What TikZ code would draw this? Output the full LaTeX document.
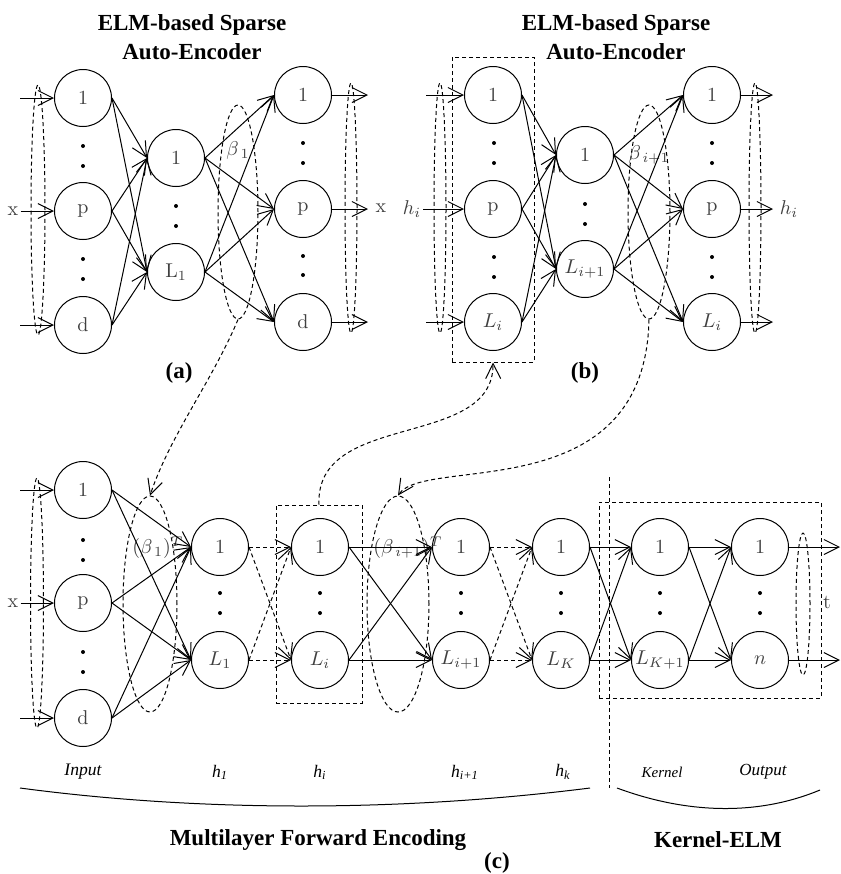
\documentclass[tikz,border=0pt]{standalone}
\usepackage{fontspec}
\newfontfamily\timesfont{Liberation Serif}
\usetikzlibrary{arrows.meta, positioning, shapes.geometric}

\begin{document}
\begin{tikzpicture}[
  x=0.5pt, y=-0.5pt,
  neuron/.style={draw, circle, minimum size=28.5pt, inner sep=0pt, line width=0.5pt, text=black!75, font=\fontsize{10}{12}\selectfont},
  ring/.style={draw, ellipse, inner sep=0pt, line width=0.5pt, dash pattern=on 2pt off 1.5pt},
  dashbox/.style={draw, rectangle, inner sep=0pt, line width=0.5pt, dash pattern=on 2pt off 1.5pt},
  arr/.style={-{Straight Barb[length=7.5pt, width=7.5pt]}, line width=0.5pt},
  darr/.style={arr, dash pattern=on 2pt off 1.5pt},
  dashline/.style={line width=0.5pt, dash pattern=on 2pt off 1.5pt},
  wlabel/.style={inner sep=1pt, text=black!75, font=\fontsize{10}{12}\selectfont},
  title/.style={align=center, font=\timesfont\bfseries\fontsize{11.5}{14.5}\selectfont},
  tag/.style={font=\timesfont\itshape\fontsize{8.8}{10}\selectfont}
]
  \useasboundingbox (0,0) rectangle (841,874);

  % (a) sparse auto-encoder
  \node[title] (a-title) at (192,37) {ELM-based Sparse\\Auto-Encoder};
  \node[neuron] (a-in1) at (83,98) {1};
  \node[neuron] (a-inp) at (83,211) {p};
  \node[neuron] (a-ind) at (83,325) {d};
  \node[neuron] (a-h1) at (176,158) {1};
  \node[neuron] (a-hL) at (176,272) {L$_1$};
  \node[neuron] (a-out1) at (303,95) {1};
  \node[neuron] (a-outp) at (303,209) {p};
  \node[neuron] (a-outd) at (303,322) {d};
  \node[ring, minimum width=7pt, minimum height=125pt] (a-ringin) at (38,210) {};
  \node[ring, minimum width=6pt, minimum height=125pt] (a-ringout) at (351,208) {};
  \node[ring, minimum width=20pt, minimum height=107pt] (a-beta) at (238,212) {};
  \node[wlabel] (a-betalab) at (238,150) {$\beta_{\,1}$};
  \node[wlabel] (a-x) at (13,211) {x};
  \node[wlabel] (a-xout) at (381,208) {x};
  \node[title] (a-tag) at (179,373) {(a)};
  \coordinate (a-s1) at (20,98);
  \coordinate (a-sd) at (20,325);
  \coordinate (a-e1) at (368,95);
  \coordinate (a-ep) at (368,209);
  \coordinate (a-ed) at (368,322);
  \fill (83,146) circle (1pt) (83,166) circle (1pt) (83,259) circle (1pt) (83,279) circle (1pt);
  \fill (176,206) circle (1pt) (176,226) circle (1pt);
  \fill (303,143) circle (1pt) (303,163) circle (1pt) (303,256) circle (1pt) (303,275) circle (1pt);

  \draw[arr] (a-s1) -- (a-in1.west);
  \draw[arr] (a-x) -- (a-inp.west);
  \draw[arr] (a-sd) -- (a-ind.west);
  \draw[arr] (a-in1.east) -- (a-h1.west);
  \draw[arr] (a-in1.east) -- (a-hL.west);
  \draw[arr] (a-inp.east) -- (a-h1.west);
  \draw[arr] (a-inp.east) -- (a-hL.west);
  \draw[arr] (a-ind.east) -- (a-h1.west);
  \draw[arr] (a-ind.east) -- (a-hL.west);
  \draw[arr] (a-h1.east) -- (a-out1.west);
  \draw[arr] (a-h1.east) -- (a-outp.west);
  \draw[arr] (a-h1.east) -- (a-outd.west);
  \draw[arr] (a-hL.east) -- (a-out1.west);
  \draw[arr] (a-hL.east) -- (a-outp.west);
  \draw[arr] (a-hL.east) -- (a-outd.west);
  \draw[arr] (a-out1.east) -- (a-e1);
  \draw[arr] (a-outp.east) -- (a-ep);
  \draw[arr] (a-outd.east) -- (a-ed);

  % (b) sparse auto-encoder of layer i
  \node[title] (b-title) at (616,37) {ELM-based Sparse\\Auto-Encoder};
  \node[neuron] (b-in1) at (493,95) {1};
  \node[neuron] (b-inp) at (493,209) {p};
  \node[neuron] (b-inL) at (493,322) {$L_i$};
  \node[neuron] (b-h1) at (585,155) {1};
  \node[neuron] (b-hL) at (585,269) {$L_{i+1}$};
  \node[neuron] (b-out1) at (712,95) {1};
  \node[neuron] (b-outp) at (712,209) {p};
  \node[neuron] (b-outL) at (712,322) {$L_i$};
  \node[dashbox, minimum width=41pt, minimum height=152.5pt] (b-box) at (493,209.5) {};
  \node[ring, minimum width=6pt, minimum height=125pt] (b-ringin) at (440,208) {};
  \node[ring, minimum width=6pt, minimum height=125pt] (b-ringout) at (755,208) {};
  \node[ring, minimum width=21pt, minimum height=107pt] (b-beta) at (649,212) {};
  \node[wlabel] (b-betalab) at (649,155) {$\beta_{\,i+1}$};
  \node[wlabel] (b-h) at (412,209) {$h_i$};
  \node[wlabel] (b-hout) at (789,209) {$h_i$};
  \node[title] (b-tag) at (585,373) {(b)};
  \coordinate (b-s1) at (426,95);
  \coordinate (b-sL) at (426,322);
  \coordinate (b-e1) at (773,95);
  \coordinate (b-ep) at (773,209);
  \coordinate (b-eL) at (773,322);
  \fill (494,143) circle (1pt) (494,163) circle (1pt) (494,257) circle (1pt) (494,277) circle (1pt);
  \fill (585,204) circle (1pt) (585,224) circle (1pt);
  \fill (712,143) circle (1pt) (712,163) circle (1pt) (712,257) circle (1pt) (712,277) circle (1pt);

  \draw[arr] (b-s1) -- (b-in1.west);
  \draw[arr] (b-h) -- (b-inp.west);
  \draw[arr] (b-sL) -- (b-inL.west);
  \draw[arr] (b-in1.east) -- (b-h1.west);
  \draw[arr] (b-in1.east) -- (b-hL.west);
  \draw[arr] (b-inp.east) -- (b-h1.west);
  \draw[arr] (b-inp.east) -- (b-hL.west);
  \draw[arr] (b-inL.east) -- (b-h1.west);
  \draw[arr] (b-inL.east) -- (b-hL.west);
  \draw[arr] (b-h1.east) -- (b-out1.west);
  \draw[arr] (b-h1.east) -- (b-outp.west);
  \draw[arr] (b-h1.east) -- (b-outL.west);
  \draw[arr] (b-hL.east) -- (b-out1.west);
  \draw[arr] (b-hL.east) -- (b-outp.west);
  \draw[arr] (b-hL.east) -- (b-outL.west);
  \draw[arr] (b-out1.east) -- (b-e1);
  \draw[arr] (b-outp.east) -- (b-ep);
  \draw[arr] (b-outL.east) -- (b-eL);

  % (c) multilayer encoding + kernel ELM
  \node[neuron] (c-in1) at (83,490) {1};
  \node[neuron] (c-inp) at (83,603) {p};
  \node[neuron] (c-ind) at (83,718) {d};
  \node[neuron] (c-a1) at (220,547) {1};
  \node[neuron] (c-aL) at (220,660) {$L_1$};
  \node[neuron] (c-b1) at (320,547) {1};
  \node[neuron] (c-bL) at (320,660) {$L_i$};
  \node[neuron] (c-c1) at (461,547) {1};
  \node[neuron] (c-cL) at (461,660) {$L_{i+1}$};
  \node[neuron] (c-d1) at (561,547) {1};
  \node[neuron] (c-dL) at (561,660) {$L_K$};
  \node[neuron] (c-k1) at (660,547) {1};
  \node[neuron] (c-kL) at (660,660) {$L_{K+1}$};
  \node[neuron] (c-o1) at (760,547) {1};
  \node[neuron] (c-oL) at (760,660) {$n$};
  \node[ring, minimum width=6.5pt, minimum height=125pt] (c-ringin) at (37,603) {};
  \node[ring, minimum width=27pt, minimum height=108pt] (c-beta1) at (150,604) {};
  \node[ring, minimum width=31pt, minimum height=108pt] (c-beta2) at (398,604) {};
  \node[ring, minimum width=7pt, minimum height=71pt] (c-ringout) at (803,604) {};
  \node[dashbox, minimum width=43pt, minimum height=99pt] (c-hbox) at (319,604) {};
  \node[dashbox, minimum width=111pt, minimum height=98pt] (c-kbox) at (710,600) {};
  \node[wlabel] (c-betalab1) at (158,548) {$(\beta_{\,1})^T$};
  \node[wlabel] (c-betalab2) at (408,548) {$(\beta_{\,i+1})^T$};
  \node[wlabel] (c-x) at (13,603) {x};
  \node[wlabel] (c-t) at (827,602) {t};
  \coordinate (c-s1) at (20,490);
  \coordinate (c-sd) at (20,718);
  \coordinate (c-e1) at (840,547);
  \coordinate (c-eL) at (840,660);
  \fill (83,540) circle (1pt) (83,560) circle (1pt) (83,652) circle (1pt) (83,672) circle (1pt);
  \fill (220,593) circle (1pt) (220,613) circle (1pt) (320,593) circle (1pt) (320,613) circle (1pt);
  \fill (461,593) circle (1pt) (461,613) circle (1pt) (561,593) circle (1pt) (561,613) circle (1pt);
  \fill (660,593) circle (1pt) (660,613) circle (1pt) (760,593) circle (1pt) (760,613) circle (1pt);

  \draw[arr] (c-s1) -- (c-in1.west);
  \draw[arr] (c-x) -- (c-inp.west);
  \draw[arr] (c-sd) -- (c-ind.west);
  \draw[arr] (c-in1.east) -- (c-a1.west);
  \draw[arr] (c-in1.east) -- (c-aL.west);
  \draw[arr] (c-inp.east) -- (c-a1.west);
  \draw[arr] (c-inp.east) -- (c-aL.west);
  \draw[arr] (c-ind.east) -- (c-a1.west);
  \draw[arr] (c-ind.east) -- (c-aL.west);
  \draw[darr] (c-a1.east) -- (c-b1.west);
  \draw[darr] (c-a1.east) -- (c-bL.west);
  \draw[darr] (c-aL.east) -- (c-b1.west);
  \draw[darr] (c-aL.east) -- (c-bL.west);
  \draw[arr] (c-b1.east) -- (c-c1.west);
  \draw[arr] (c-b1.east) -- (c-cL.west);
  \draw[arr] (c-bL.east) -- (c-c1.west);
  \draw[arr] (c-bL.east) -- (c-cL.west);
  \draw[darr] (c-c1.east) -- (c-d1.west);
  \draw[darr] (c-c1.east) -- (c-dL.west);
  \draw[darr] (c-cL.east) -- (c-d1.west);
  \draw[darr] (c-cL.east) -- (c-dL.west);
  \draw[arr] (c-d1.east) -- (c-k1.west);
  \draw[arr] (c-d1.east) -- (c-kL.west);
  \draw[arr] (c-dL.east) -- (c-k1.west);
  \draw[arr] (c-dL.east) -- (c-kL.west);
  \draw[arr] (c-k1.east) -- (c-o1.west);
  \draw[arr] (c-k1.east) -- (c-oL.west);
  \draw[arr] (c-kL.east) -- (c-o1.west);
  \draw[arr] (c-kL.east) -- (c-oL.west);
  \draw[arr] (c-o1.east) -- (c-e1);
  \draw[arr] (c-oL.east) -- (c-eL);

  % links between the panels
  \draw[darr] (a-beta.south) .. controls +(-25,60) and +(20,-60) .. (c-beta1.north);
  \draw[darr] (c-hbox.north) .. controls (315,410) and (494,450) .. (b-box.south);
  \draw[darr] (b-beta.south) .. controls (645,510) and (425,455) .. (c-beta2.north);

  % layer names and braces
  \draw[dashline] (609,477) -- (609,788);
  \node[tag] (c-lin) at (83,772) {Input};
  \node[tag] (c-lh1) at (220,772) {h\textsubscript{1}};
  \node[tag] (c-lhi) at (320,772) {h\textsubscript{i}};
  \node[tag] (c-lhi1) at (465,772) {h\textsubscript{i+1}};
  \node[tag] (c-lhk) at (563,772) {h\textsubscript{k}};
  \node[tag, font=\timesfont\itshape\fontsize{7.5}{9}\selectfont] (c-lk) at (662,772) {Kernel};
  \node[tag, font=\timesfont\itshape\fontsize{8.5}{10}\selectfont] (c-lo) at (763,772) {Output};
  \draw[line width=0.5pt] (20,788) .. controls (200,812) and (400,812) .. (590,788);
  \draw[line width=0.5pt] (617,788) .. controls (690,815) and (760,815) .. (820,790);
  \node[title] (c-enc) at (318,840) {Multilayer Forward Encoding};
  \node[title] (c-kelm) at (718,840) {Kernel-ELM};
  \node[title] (c-tag) at (497,863) {(c)};
\end{tikzpicture}
\end{document}
